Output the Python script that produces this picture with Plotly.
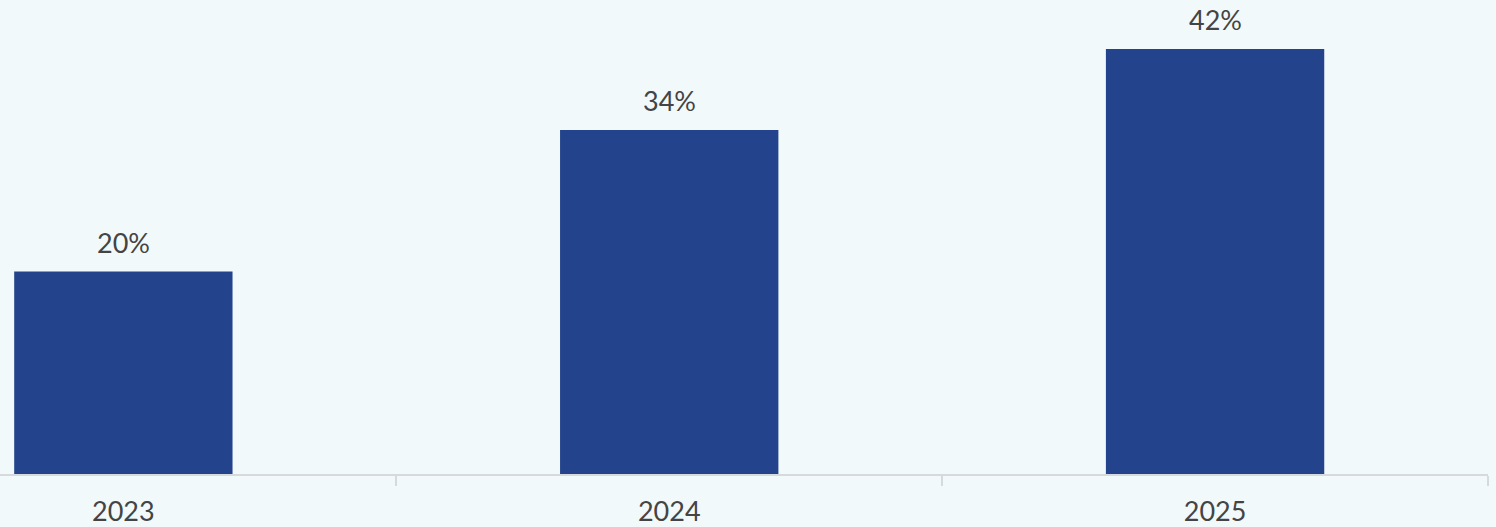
import plotly.graph_objects as go

years = ["2023", "2024", "2025"]
shares = [20, 34, 42]
labels = ["20%", "34%", "42%"]

BAR = "#23448c"
BG = "#f2f9fb"
TXT = "#444444"
AX = "#d6dadc"

fig = go.Figure()
fig.add_trace(go.Bar(
    x=years, y=shares, width=0.4,
    marker=dict(color=BAR, line=dict(width=0)),
    hoverinfo="skip",
))

for i, (y, t) in enumerate(zip(shares, labels)):
    fig.add_annotation(x=i, y=y, xref="x", yref="y", text=t, showarrow=False,
                       yanchor="bottom", yshift=11,
                       font=dict(family="Lato", size=27, color=TXT))

fig.update_layout(
    width=1496, height=527,
    margin=dict(l=0, r=7.5, t=0, b=52.5),
    paper_bgcolor=BG, plot_bgcolor=BG,
    showlegend=False,
    xaxis=dict(
        type="category", range=[-0.226, 2.5], automargin=False,
        showline=True, linecolor=AX, linewidth=2,
        ticks="outside", tickson="boundaries", ticklen=10, tickcolor=AX, tickwidth=2,
        ticklabelstandoff=13,
        showgrid=False, zeroline=False,
        tickfont=dict(family="Lato", size=27, color=TXT),
    ),
    yaxis=dict(range=[0, 46.84], visible=False, showgrid=False, zeroline=False,
               automargin=False),
)

fig.write_html("out.html")
